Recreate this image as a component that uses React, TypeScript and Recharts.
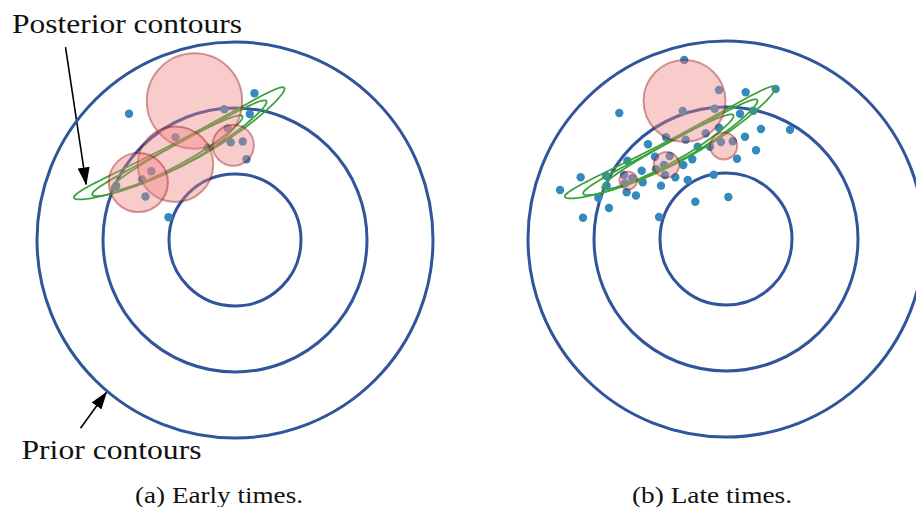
import React from 'react';
import { ScatterChart, Scatter, XAxis, YAxis, ZAxis, ReferenceLine } from 'recharts';

// prior contours, radius in prior std units
const priorRadii = [1, 2, 3];

// observations seen so far - early panel
const earlyX = [-1.606, 0.295, 0.224, -0.162, -0.109, -0.065, 0.117, 0.174, -0.902, -0.414, -1.268, -1.409, -1.8, -1.356, -1.008];
const earlyY = [1.912, 2.224, 1.909, 1.982, 1.692, 1.48, 1.492, 1.224, 1.558, 1.397, 1.042, 0.917, 0.821, 0.659, 0.344];

// observations seen so far - late panel
const lateX = [-0.632, -0.106, 0.298, 0.753, -1.617, -0.656, -0.171, 0.212, 0.414, 0.53, 0.97, 0.288, -0.106, -0.308, -0.076, 0.102, -0.242, 0.455, 0.167, -0.429, -0.611, -0.909, -1.182, -1.076, -0.853, -0.939, -0.511, -0.647, -0.924, -0.768, -0.58, -0.186, -1.495, -1.277, -1.061, -1.545, -1.42, -1.53, -1.818, -1.808, -1.262, -0.985, -1.505, -1.364, -2.202, -2.515, -1.935, -1.773, -2.167, -1.015, -0.465, 0.035];
const lateY = [2.712, 2.258, 2.223, 2.273, 1.909, 1.939, 1.974, 1.898, 1.944, 1.667, 1.656, 1.55, 1.686, 1.602, 1.47, 1.48, 1.398, 1.344, 1.217, 1.398, 1.505, 1.541, 1.435, 1.247, 1.258, 1.121, 1.208, 1.121, 0.97, 0.935, 0.894, 0.974, 1.186, 1.035, 1.056, 0.97, 0.92, 0.844, 0.959, 0.808, 0.859, 0.808, 0.708, 0.659, 0.935, 0.742, 0.626, 0.47, 0.323, 0.333, 0.565, 0.636];

// posterior mixture components (centre + radius)
const earlyCompX = [-0.614, -0.902, -1.465, -0.026];
const earlyCompY = [2.106, 1.148, 0.871, 1.436];
const earlyCompR = [0.723, 0.573, 0.448, 0.312];
const lateCompX = [-0.629, -0.035, -0.902, -1.48];
const lateCompY = [2.091, 1.409, 1.124, 0.886];
const lateCompR = [0.621, 0.205, 0.194, 0.135];

// posterior contours (same in both panels): centre, half-length, half-width, tilt, sag
const contourX = [-0.845, -0.843, -0.88];
const contourY = [1.47, 1.394, 1.323];
const contourA = [1.799, 1.499, 1.136];
const contourB = [0.18, 0.162, 0.145];
const contourAngle = [27.6, 28.3, 29.1];
const contourSag = [0.15, 0.09, 0.03];

// annotation arrows in the left panel: [tailX, tailY, tipX, tipY]
const posteriorArrow = [-2.568, 2.921, -2.255, 0.841];
const priorArrow = [-2.341, -2.852, -1.947, -2.306];

const SIZE = 462;
const LIM = 3.5;
const PX = SIZE / (2 * LIM);
const Z_MAX = 40;

const PRIOR_BLUE = '#30559a';
const DOT_BLUE = '#348abd';
const GREEN = '#3ca33c';
const SERIF = "'Liberation Serif', serif";

const rings = priorRadii.map((r) => ({ x: 0, y: 0, z: Math.PI * r * r }));
const toPoints = (xs: number[], ys: number[]) => xs.map((x, i) => ({ x, y: ys[i] }));
const toComps = (xs: number[], ys: number[], rs: number[]) =>
  xs.map((x, i) => ({ x, y: ys[i], z: Math.PI * rs[i] * rs[i] }));

// outline of each (slightly bent) contour
const contours = contourX.map((cx, k) => {
  const th = (contourAngle[k] * Math.PI) / 180;
  const pts = [];
  for (let i = 0; i <= 120; i++) {
    const t = (i / 120) * 2 * Math.PI;
    const s = contourA[k] * Math.cos(t);
    const n = contourB[k] * Math.sin(t) + contourSag[k] * Math.sin(t) ** 2;
    pts.push({
      x: cx + s * Math.cos(th) + n * Math.sin(th),
      y: contourY[k] + s * Math.sin(th) - n * Math.cos(th),
    });
  }
  return pts;
});

const radiusOf = (p: any) => (p.width ? p.width / 2 : Math.sqrt((p.size || 0) / Math.PI));

const RingShape = (p: any) => (
  <circle cx={p.cx} cy={p.cy} r={radiusOf(p)} fill="none" stroke={PRIOR_BLUE} strokeWidth={3} />
);
const CompShape = (p: any) => (
  <circle
    cx={p.cx}
    cy={p.cy}
    r={radiusOf(p)}
    fill="#f08080"
    fillOpacity={0.4}
    stroke="#8b0000"
    strokeOpacity={0.38}
    strokeWidth={2}
  />
);
const DotShape = (p: any) => <circle cx={p.cx} cy={p.cy} r={4.2} fill={DOT_BLUE} />;
const NoShape = () => <g />;

const Panel = ({ obs, comps, arrows }: { obs: any[]; comps: any[]; arrows?: boolean }) => (
  <ScatterChart width={SIZE} height={SIZE} margin={{ top: 0, right: 0, bottom: 0, left: 0 }}>
    <XAxis type="number" dataKey="x" domain={[-LIM, LIM]} hide />
    <YAxis type="number" dataKey="y" domain={[-LIM, LIM]} hide />
    <ZAxis type="number" dataKey="z" domain={[0, Z_MAX]} range={[0, Z_MAX * PX * PX]} />
    <Scatter data={rings} shape={RingShape} isAnimationActive={false} />
    <Scatter data={obs} shape={DotShape} isAnimationActive={false} />
    {contours.map((pts, k) => (
      <Scatter
        key={k}
        data={pts}
        shape={NoShape}
        line={{ stroke: GREEN, strokeWidth: 1.8, fill: 'none' }}
        lineType="joint"
        fill="none"
        isAnimationActive={false}
      />
    ))}
    <Scatter data={comps} shape={CompShape} isAnimationActive={false} />
    {arrows &&
      [posteriorArrow, priorArrow].map((a, k) => (
        <ReferenceLine
          key={k}
          segment={[
            { x: a[0], y: a[1] },
            { x: a[2], y: a[3] },
          ]}
          stroke="#000"
          strokeWidth={1.6}
          markerEnd="url(#arrowhead)"
          ifOverflow="visible"
        />
      ))}
  </ScatterChart>
);

const textStyle = (size: number): React.CSSProperties => ({ fontFamily: SERIF, fontSize: size });

export default function App() {
  return (
    <div
      style={{
        position: 'fixed',
        left: 0,
        top: 0,
        width: 916,
        height: 507,
        overflow: 'hidden',
        background: '#fff',
      }}
    >
      <svg width={0} height={0} style={{ position: 'absolute' }}>
        <defs>
          <marker
            id="arrowhead"
            markerUnits="userSpaceOnUse"
            markerWidth={18}
            markerHeight={12}
            refX={17}
            refY={6}
            orient="auto"
          >
            <path d="M0,0 L18,6 L0,12 Z" fill="#000" />
          </marker>
        </defs>
      </svg>
      <div style={{ position: 'absolute', left: 3.5, top: 8.5 }}>
        <Panel obs={toPoints(earlyX, earlyY)} comps={toComps(earlyCompX, earlyCompY, earlyCompR)} arrows />
      </div>
      <div style={{ position: 'absolute', left: 495, top: 8 }}>
        <Panel obs={toPoints(lateX, lateY)} comps={toComps(lateCompX, lateCompY, lateCompR)} />
      </div>
      <svg
        width={916}
        height={507}
        style={{ position: 'absolute', left: 0, top: 0, pointerEvents: 'none' }}
      >
        <text x={12} y={33} fill="#111" style={textStyle(28)} textLength={230} lengthAdjust="spacingAndGlyphs">
          Posterior contours
        </text>
        <text x={21.5} y={459} fill="#111" style={textStyle(28)} textLength={180} lengthAdjust="spacingAndGlyphs">
          Prior contours
        </text>
        <text x={135} y={503} fill="#111" style={textStyle(24)} textLength={168} lengthAdjust="spacingAndGlyphs">
          (a) Early times.
        </text>
        <text x={632} y={503} fill="#111" style={textStyle(24)} textLength={160} lengthAdjust="spacingAndGlyphs">
          (b) Late times.
        </text>
      </svg>
    </div>
  );
}
